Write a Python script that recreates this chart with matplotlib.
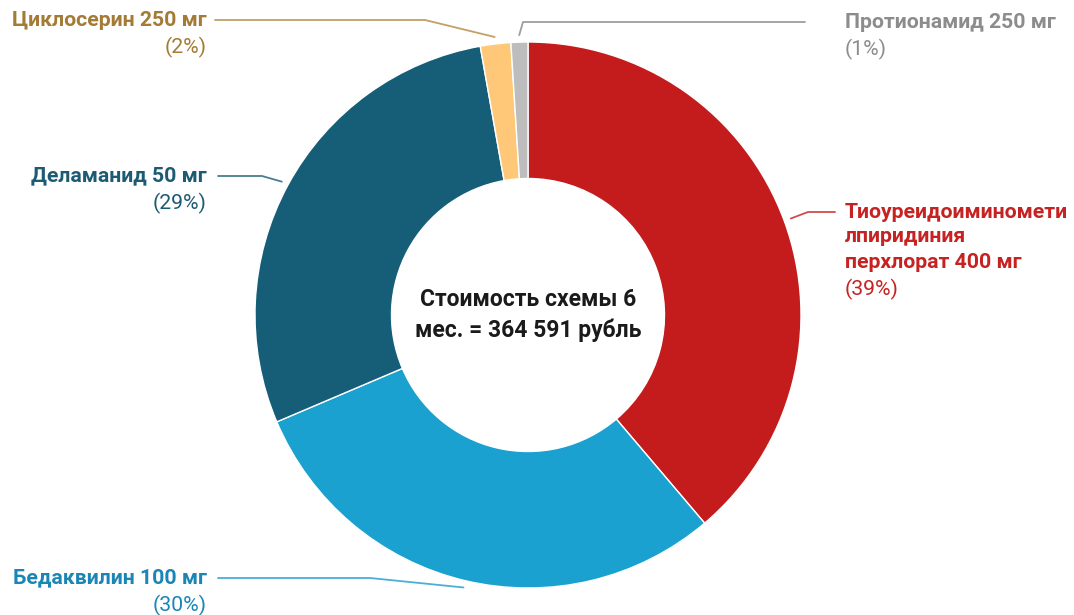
import numpy as np
import matplotlib.pyplot as plt

plt.rcParams['font.family'] = ['Roboto', 'DejaVu Sans']

# доли стоимости схемы, %
drugs = ['Тиоуреидоиминомети\nлпиридиния\nперхлорат 400 мг', 'Бедаквилин 100 мг',
         'Деламанид 50 мг', 'Циклосерин 250 мг', 'Протионамид 250 мг']
shares = [38.8, 29.8, 28.6, 1.8, 1.0]
pct_labels = ['(39%)', '(30%)', '(29%)', '(2%)', '(1%)']
colors = ['#C41C1C', '#1BA1CF', '#165E78', '#FFC878', '#BDBDBD']
text_colors = ['#C62222', '#1A86B5', '#1D5B74', '#A37B36', '#8C8C8C']
line_colors = ['#D14B4B', '#4BAFD6', '#4A7D92', '#C2A066', '#9E9E9E']
center_text = 'Стоимость схемы 6\nмес. = 364 591 рубль'

W, H = 1074, 615
cx, cy = 528, H - 315
R = 273

fig = plt.figure(figsize=(W / 100, H / 100), dpi=100)
ax = fig.add_axes([0, 0, 1, 1])

wedges, _ = ax.pie(shares, colors=colors, startangle=90, counterclock=False,
                   center=(cx, cy), radius=R,
                   wedgeprops=dict(width=R * 0.5, edgecolor='white', linewidth=1))
ax.set_xlim(0, W)
ax.set_ylim(0, H)
ax.set_aspect('equal')
ax.axis('off')

ax.text(cx, cy, center_text, ha='center', va='center', fontsize=16.5,
        fontweight='bold', color='#1a1a1a', linespacing=1.4)

# раскладка подписей: (x текста, y линии, x излома, x конца линии, сторона)
layout = [
    (845, H - 212, 808, 835, 'right'),
    (207, H - 578, 370, 218, 'left'),
    (207, H - 176, 262, 218, 'left'),
    (207, H - 20, 425, 215, 'left'),
    (845, H - 22, 523, 805, 'right'),
]

for w, name, pct, tc, lc, (tx, ty, ex, lx, side) in zip(
        wedges, drugs, pct_labels, text_colors, line_colors, layout):
    mid = np.deg2rad((w.theta1 + w.theta2) / 2)
    px = cx + (R + 7) * np.cos(mid)
    py = cy + (R + 7) * np.sin(mid)
    ax.plot([px, ex, lx], [py, ty, ty], color=lc, lw=1.3, solid_capstyle='round')
    ha = 'left' if side == 'right' else 'right'
    lines = name.split('\n')
    for i, line in enumerate(lines):
        ax.text(tx, ty - 25 * i, line, ha=ha, va='center',
                fontsize=15.3, fontweight='bold', color=tc)
    ax.text(tx, ty - 25 * (len(lines) - 1) - 27, pct, ha=ha, va='center',
            fontsize=15.3, color=tc)

fig.savefig('out.png', dpi=100)
